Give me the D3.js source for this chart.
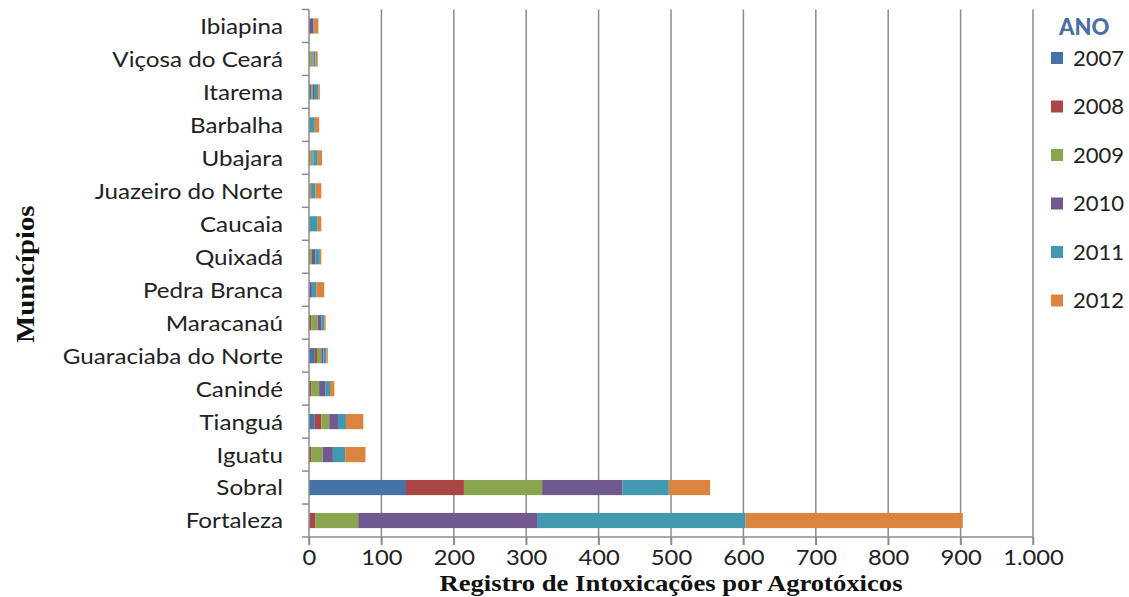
<!DOCTYPE html>
<html>
<head>
<meta charset="utf-8">
<script src="https://cdn.jsdelivr.net/npm/d3@7"></script>
<style>
  body { margin: 0; background: #fff; }
  text { font-family: Lato, "Open Sans", sans-serif; }
</style>
</head>
<body>
<script>
const municipios = ["Ibiapina", "Viçosa do Ceará", "Itarema", "Barbalha", "Ubajara", "Juazeiro do Norte",
  "Caucaia", "Quixadá", "Pedra Branca", "Maracanaú", "Guaraciaba do Norte", "Canindé",
  "Tianguá", "Iguatu", "Sobral", "Fortaleza"];
const anos = ["2007", "2008", "2009", "2010", "2011", "2012"];
const cores = ["#4572A7", "#AA4643", "#89A54E", "#71588F", "#4198AF", "#DB843D"];
// one array per year, same order as municipios
const v2007 = [0, 0, 3, 0, 0, 0, 0, 1, 1, 0, 8, 0, 8, 0, 134, 1];
const v2008 = [0, 2, 0, 0, 2, 0, 0, 0, 0, 3, 3, 3, 9, 3, 80, 8];
const v2009 = [0, 3, 2, 0, 3, 3, 0, 3, 0, 9, 6, 11, 11, 16, 108, 59];
const v2010 = [6, 1, 3, 0, 1, 1, 0, 5, 3, 5, 3, 9, 12, 14, 111, 248];
const v2011 = [1, 3, 5, 8, 6, 5, 12, 6, 6, 4, 4, 6, 11, 17, 64, 287];
const v2012 = [6, 3, 2, 6, 6, 8, 5, 2, 11, 2, 2, 6, 24, 28, 57, 300];
const xTicks = [0, 100, 200, 300, 400, 500, 600, 700, 800, 900, 1000];

const series = [v2007, v2008, v2009, v2010, v2011, v2012];
const rows = municipios.map((m, i) => {
  const r = {municipio: m};
  anos.forEach((a, j) => r[a] = series[j][i]);
  return r;
});

const width = 1129, height = 597;
const margin = {top: 9.5, right: 96, bottom: 60, left: 309};

const svg = d3.select("body").append("svg")
  .attr("width", width).attr("height", height);

const x = d3.scaleLinear().domain([0, 1000]).range([margin.left, width - margin.right]);
const y = d3.scaleBand().domain(municipios)
  .range([margin.top, height - margin.bottom]).paddingInner(0.54).paddingOuter(0.27);

const stack = d3.stack().keys(anos)(rows);
const color = d3.scaleOrdinal().domain(anos).range(cores);

// gridlines
svg.append("g")
  .selectAll("line")
  .data(xTicks.slice(1))
  .join("line")
  .attr("x1", d => x(d)).attr("x2", d => x(d))
  .attr("y1", margin.top).attr("y2", height - margin.bottom + 8)
  .attr("stroke", "#8c8c8c").attr("stroke-width", 1.5);

// bars
svg.append("g")
  .selectAll("g")
  .data(stack)
  .join("g")
  .attr("fill", d => color(d.key))
  .selectAll("rect")
  .data(d => d)
  .join("rect")
  .attr("x", d => x(d[0]))
  .attr("y", d => y(d.data.municipio))
  .attr("width", d => x(d[1]) - x(d[0]))
  .attr("height", y.bandwidth());

// x axis
const xAxis = svg.append("g")
  .attr("transform", `translate(0,${height - margin.bottom})`)
  .call(d3.axisBottom(x).tickValues(xTicks).tickSize(8).tickPadding(6)
    .tickFormat(d => d === 1000 ? "1.000" : d));
xAxis.select(".domain").attr("stroke", "#8c8c8c").attr("stroke-width", 1.5)
  .attr("d", `M${x(0) - 7},0H${x(1000)}`);
xAxis.selectAll(".tick line").attr("stroke", "#8c8c8c").attr("stroke-width", 1.5);
xAxis.selectAll(".tick text")
  .attr("y", 0).attr("dy", null)
  .attr("transform", "translate(0,27.5) scale(1.08,1)")
  .attr("font-size", 22).attr("fill", "#222")
  .style("font-family", "Lato, sans-serif");

// y axis: tick marks at band boundaries
const yAxis = svg.append("g");
yAxis.append("line")
  .attr("x1", x(0)).attr("x2", x(0))
  .attr("y1", margin.top).attr("y2", height - margin.bottom + 8)
  .attr("stroke", "#8c8c8c").attr("stroke-width", 1.5);
yAxis.selectAll("line.tk")
  .data(municipios)
  .join("line")
  .attr("class", "tk")
  .attr("x1", x(0) - 7).attr("x2", x(0))
  .attr("y1", d => y(d) - y.step() * y.paddingInner() / 2)
  .attr("y2", d => y(d) - y.step() * y.paddingInner() / 2)
  .attr("stroke", "#8c8c8c").attr("stroke-width", 1.5);
yAxis.selectAll("text")
  .data(municipios)
  .join("text")
  .attr("transform", d => `translate(${x(0) - 26},${y(d) + y.bandwidth() / 2}) scale(1.1,1)`)
  .attr("dy", "0.36em")
  .attr("text-anchor", "end")
  .attr("font-size", 22)
  .attr("fill", "#222")
  .text(d => d);

// axis titles
svg.append("text")
  .attr("transform", `translate(${(x(0) + x(1000)) / 2},591) scale(1.11,1)`)
  .attr("text-anchor", "middle")
  .style("font-family", "'Liberation Serif', serif")
  .attr("font-weight", "bold").attr("font-size", 24).attr("fill", "#111")
  .text("Registro de Intoxicações por Agrotóxicos");

svg.append("text")
  .attr("transform", `translate(34,${(margin.top + height - margin.bottom) / 2 + 1}) rotate(-90) scale(1.15,1)`)
  .attr("text-anchor", "middle")
  .style("font-family", "'Liberation Serif', serif")
  .attr("font-weight", "bold").attr("font-size", 25).attr("fill", "#111")
  .text("Municípios");

// legend
const legend = svg.append("g").attr("transform", "translate(1051,0)");
legend.append("text")
  .attr("x", 8).attr("y", 35)
  .attr("font-weight", 900).attr("font-size", 22).attr("fill", "#4A6FA5")
  .text("ANO");
const item = legend.selectAll("g.item")
  .data(anos)
  .join("g")
  .attr("class", "item")
  .attr("transform", (d, i) => `translate(0,${58 + i * 48.5})`);
item.append("rect")
  .attr("x", 0).attr("y", -6).attr("width", 12).attr("height", 12)
  .attr("fill", d => color(d));
item.append("text")
  .attr("transform", "translate(22,0) scale(1.05,1)")
  .attr("dy", "0.36em")
  .attr("font-size", 21).attr("fill", "#222")
  .text(d => d);
</script>
</body>
</html>
